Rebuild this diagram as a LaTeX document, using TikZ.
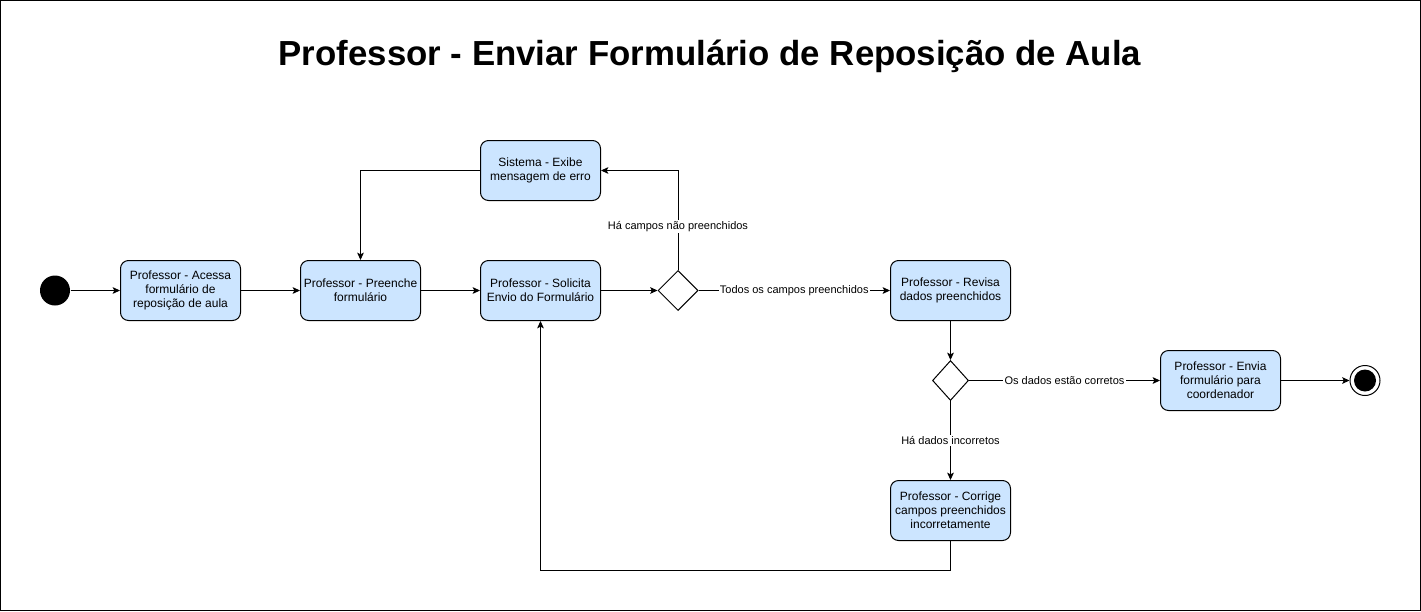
\documentclass[tikz,border=0pt]{standalone}
\usepackage{fontspec}
\setmainfont{Liberation Sans}
\usetikzlibrary{shapes.geometric,arrows.meta}
\definecolor{actblue}{HTML}{CCE5FF}

\tikzset{
	activity/.style={draw=black, fill=actblue, rounded corners=6pt, minimum width=90pt, minimum height=45pt, inner sep=1pt, align=center, font=\fontsize{9}{10.5}\selectfont},
	decision/.style={draw=black, fill=white, diamond, inner sep=0pt, minimum width=30pt, minimum height=30pt},
	initial/.style={circle, fill=black, inner sep=0pt, minimum size=22.5pt},
	final/.style={circle, draw=black, fill=white, inner sep=0pt, minimum size=22.5pt, path picture={\fill[black] (path picture bounding box.center) circle (8.25pt);}},
	flow/.style={-{Stealth[length=5.5pt,width=5pt,inset=1.2pt]}},
	guard/.style={fill=white, inner sep=1pt, font=\fontsize{8.25}{9.5}\selectfont}
}

\begin{document}
\begin{tikzpicture}[x=0.75pt, y=-0.75pt, line width=0.75pt]
		\useasboundingbox (0,0) rectangle (1421,611);
		\draw (0.5,0.5) rectangle (1420.5,610.5);

		% Title
		\node (title) at (710,56) {\fontsize{26.1}{30}\selectfont\bfseries Professor - Enviar Formulário de Reposição de Aula};

		% Define nodes
		\node[initial] (start) at (55,290.5) {};
		\node[activity] (acessa) at (180.5,290.5) {Professor - Acessa\\formulário de\\reposição de aula};
		\node[activity] (preenche) at (360.5,290.5) {Professor - Preenche\\formulário};
		\node[activity] (solicita) at (540.5,290.5) {Professor - Solicita\\Envio do Formulário};
		\node[activity] (erro) at (540.5,170.5) {Sistema - Exibe\\mensagem de erro};
		\node[decision] (dec1) at (678,290.5) {};
		\node[activity] (revisa) at (950.5,290.5) {Professor - Revisa\\dados preenchidos};
		\node[decision, minimum width=27pt] (dec2) at (950.5,380.5) {};
		\node[activity] (envia) at (1220.5,380.5) {Professor - Envia\\formulário para\\coordenador};
		\node[final] (end) at (1365,380.5) {};
		\node[activity] (corrige) at (950.5,510.5) {Professor - Corrige\\campos preenchidos\\incorretamente};
		\coordinate (back) at (540.5,570.5);

		% Connect the nodes
		\draw[flow] (start) -- (acessa);
		\draw[flow] (acessa) -- (preenche);
		\draw[flow] (preenche) -- (solicita);
		\draw[flow] (solicita) -- (dec1);
		\draw[flow] (dec1) -- node[guard] {Todos os campos preenchidos} (revisa);
		\draw[flow] (dec1.north) |- node[guard, pos=0.22] {Há campos não preenchidos} (erro.east);
		\draw[flow] (erro.west) -| (preenche.north);
		\draw[flow] (revisa) -- (dec2);
		\draw[flow] (dec2) -- node[guard] {Os dados estão corretos} (envia);
		\draw[flow] (dec2) -- node[guard] {Há dados incorretos} (corrige);
		\draw[flow] (envia) -- (end);
		\draw[flow] (corrige.south) |- (back) -- (solicita.south);
	\end{tikzpicture}
\end{document}
